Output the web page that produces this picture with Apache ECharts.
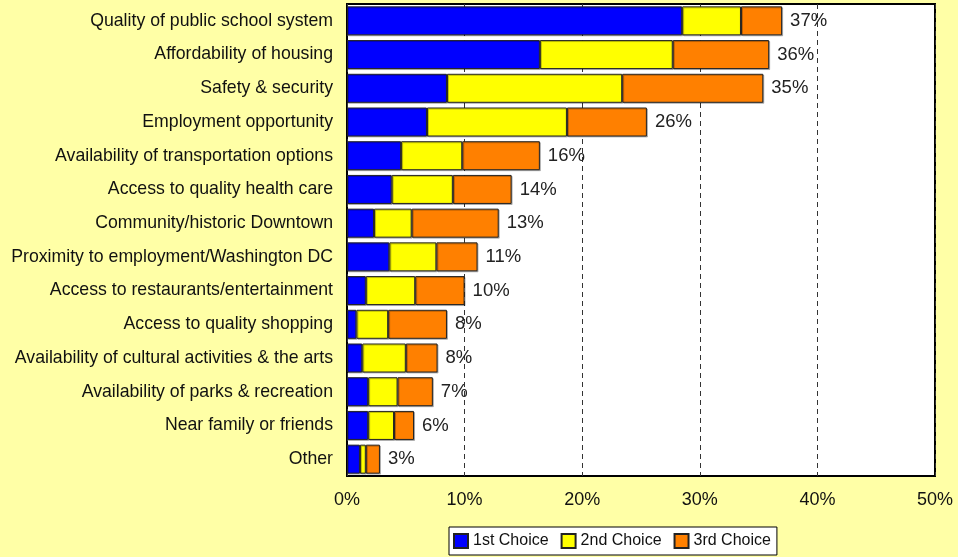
<!DOCTYPE html>
<html>
<head>
<meta charset="utf-8">
<script src="https://cdn.jsdelivr.net/npm/echarts@6/dist/echarts.min.js"></script>
<style>
  html, body { margin: 0; padding: 0; background: #FFFFA6; }
  #chart { width: 958px; height: 557px; }
</style>
</head>
<body>
<div id="chart"></div>
<script>
// 类别（从上到下）
var categories = [
    "Quality of public school system",
    "Affordability of housing",
    "Safety & security",
    "Employment opportunity",
    "Availability of transportation options",
    "Access to quality health care",
    "Community/historic Downtown",
    "Proximity to employment/Washington DC",
    "Access to restaurants/entertainment",
    "Access to quality shopping",
    "Availability of cultural activities & the arts",
    "Availability of parks & recreation",
    "Near family or friends",
    "Other"
];
// 系列数据 (%)
var firstChoice  = [28.5, 16.4, 8.5, 6.8, 4.6, 3.8, 2.3, 3.6, 1.6, 0.8, 1.3, 1.8, 1.8, 1.1];
var secondChoice = [5.0, 11.3, 14.9, 11.9, 5.2, 5.2, 3.2, 4.0, 4.2, 2.7, 3.7, 2.5, 2.2, 0.5];
var thirdChoice  = [3.5, 8.2, 12.0, 6.8, 6.6, 5.0, 7.4, 3.5, 4.2, 5.0, 2.7, 3.0, 1.7, 1.2];
// 合计标签
var totalLabels = ["37%", "36%", "35%", "26%", "16%", "14%", "13%", "11%", "10%", "8%", "8%", "7%", "6%", "3%"];
// X轴刻度
var xTicks = [0, 10, 20, 30, 40, 50];

var fontName = "'Liberation Sans', Arial, sans-serif";

function barSeries(name, data, color, withLabel) {
    var s = {
        name: name,
        type: 'bar',
        stack: 'total',
        barWidth: 29,
        data: data,
        itemStyle: {
            color: color,
            borderColor: '#222',
            borderWidth: 1,
            shadowColor: 'rgba(0,0,0,0.25)',
            shadowOffsetX: 1,
            shadowOffsetY: 1
        },
        emphasis: { disabled: true }
    };
    if (withLabel) {
        s.label = {
            show: true,
            position: 'right',
            distance: 8,
            color: '#222',
            fontSize: 18.5,
            fontFamily: fontName,
            formatter: function (p) { return totalLabels[p.dataIndex]; }
        };
    }
    return s;
}

var myChart = echarts.init(document.getElementById('chart'), null, { renderer: 'canvas' });

var option = {
    backgroundColor: '#FFFFA6',
    animation: false,
    textStyle: { fontFamily: fontName },
    grid: {
        left: 347,
        right: 23,
        top: 4,
        bottom: 81,
        show: true,
        backgroundColor: '#ffffff',
        borderColor: '#000',
        borderWidth: 2
    },
    legend: {
        left: 449,
        top: 527,
        orient: 'horizontal',
        backgroundColor: '#ffffff',
        borderColor: '#000',
        borderWidth: 1,
        borderRadius: 0,
        padding: [6, 6, 6, 4],
        itemWidth: 14,
        itemHeight: 14,
        itemGap: 12,
        icon: 'rect',
        textStyle: { fontSize: 16, color: '#111', fontFamily: fontName },
        data: ['1st Choice', '2nd Choice', '3rd Choice']
    },
    xAxis: {
        type: 'value',
        min: xTicks[0],
        max: xTicks[xTicks.length - 1],
        interval: 10,
        axisLine: { show: false },
        axisTick: { show: false },
        axisLabel: {
            formatter: '{value}%',
            fontSize: 18,
            color: '#111',
            margin: 15,
            fontFamily: fontName
        },
        splitLine: {
            show: true,
            lineStyle: { color: '#333', width: 1, type: [5, 4] }
        }
    },
    yAxis: {
        type: 'category',
        inverse: true,
        data: categories,
        axisLine: { show: false },
        axisTick: { show: false },
        axisLabel: {
            fontSize: 17.7,
            color: '#111',
            margin: 14,
            fontFamily: fontName
        }
    },
    series: [
        barSeries('1st Choice', firstChoice, '#0000FF', false),
        barSeries('2nd Choice', secondChoice, '#FFFF00', false),
        barSeries('3rd Choice', thirdChoice, '#FF8000', true)
    ]
};
myChart.setOption(option);
</script>
</body>
</html>
